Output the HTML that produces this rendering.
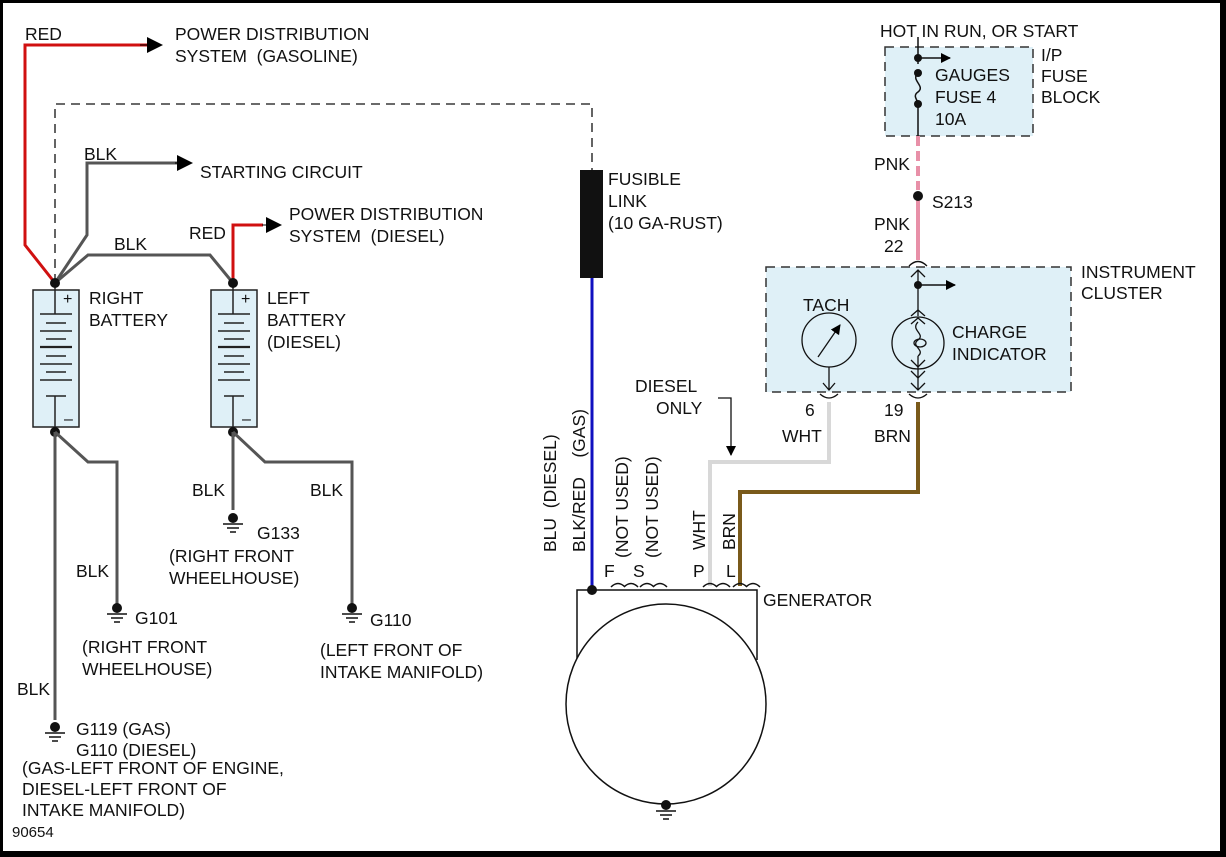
<!DOCTYPE html>
<html><head><meta charset="utf-8"><style>
html,body{margin:0;padding:0;background:#fff}
svg{display:block}
text{font-family:"Liberation Sans",Arial,sans-serif;font-size:17.5px;fill:#111}
</style></head><body>
<svg width="1226" height="857" viewBox="0 0 1226 857" xmlns="http://www.w3.org/2000/svg">
<defs>
<marker id="ah" markerWidth="10" markerHeight="10" refX="9" refY="5" orient="auto" markerUnits="userSpaceOnUse"><path d="M0,0 L10,5 L0,10 z" fill="#000"/></marker>
<marker id="ahb" markerWidth="16" markerHeight="16" refX="15" refY="8" orient="auto" markerUnits="userSpaceOnUse"><path d="M0,0 L16,8 L0,16 z" fill="#000"/></marker>
<g id="gnd" stroke="#111" stroke-width="1.5">
<circle cx="0" cy="0" r="5" fill="#111" stroke="none"/>
<line x1="-10" y1="6" x2="10" y2="6"/><line x1="-6" y1="10" x2="6" y2="10"/><line x1="-3" y1="14" x2="3" y2="14"/>
</g>
<g id="bat">
<rect x="33" y="290" width="46" height="137" fill="#dff0f7" stroke="#222" stroke-width="1.5"/>
<line x1="55" y1="283" x2="55" y2="314" stroke="#222" stroke-width="1.5"/>
<line x1="40" y1="314" x2="72" y2="314" stroke="#222" stroke-width="1.5"/>
<line x1="46" y1="323" x2="66" y2="323" stroke="#222" stroke-width="1.5"/>
<line x1="40" y1="331" x2="72" y2="331" stroke="#222" stroke-width="1.5"/>
<line x1="46" y1="339" x2="66" y2="339" stroke="#222" stroke-width="1.5"/>
<line x1="40" y1="347" x2="72" y2="347" stroke="#222" stroke-width="2.2"/>
<line x1="46" y1="356" x2="66" y2="356" stroke="#222" stroke-width="1.5"/>
<line x1="40" y1="364" x2="72" y2="364" stroke="#222" stroke-width="1.5"/>
<line x1="46" y1="372" x2="66" y2="372" stroke="#222" stroke-width="1.5"/>
<line x1="40" y1="380" x2="72" y2="380" stroke="#222" stroke-width="1.5"/>
<line x1="46" y1="396" x2="66" y2="396" stroke="#222" stroke-width="1.5"/>
<line x1="55" y1="396" x2="55" y2="432" stroke="#222" stroke-width="1.5"/>
<text x="63" y="304" style="font-size:16px">+</text>
<text x="64" y="424" style="font-size:16px">–</text>
</g>
</defs>
<rect x="1.5" y="1.5" width="1220" height="851" fill="none" stroke="#000" stroke-width="3"/>
<rect x="1221" y="0" width="5" height="857" fill="#000"/>
<rect x="0" y="851" width="1226" height="6" fill="#000"/>

<rect x="885" y="47" width="148" height="89" fill="#dff0f7" stroke="#333" stroke-width="1.5" stroke-dasharray="9,6"/>
<rect x="766" y="267" width="305" height="125" fill="#dff0f7" stroke="#333" stroke-width="1.5" stroke-dasharray="9,6"/>

<polyline points="55,283 55,104 592,104 592,170" fill="none" stroke="#111" stroke-width="1.3" stroke-dasharray="9,6"/>
<rect x="580" y="170" width="23" height="108" fill="#111"/>
<line x1="592" y1="278" x2="592" y2="590" stroke="#1010c0" stroke-width="3"/>

<polyline points="55,283 25,245 25,45 148,45" fill="none" stroke="#d01010" stroke-width="3"/>
<line x1="140" y1="45" x2="162" y2="45" stroke="#000" stroke-width="1" marker-end="url(#ahb)"/>
<polyline points="233,283 233,225 263,225" fill="none" stroke="#d01010" stroke-width="3"/>
<line x1="262" y1="225" x2="281" y2="225" stroke="#000" stroke-width="1" marker-end="url(#ahb)"/>

<polyline points="55,283 87,235 87,163 178,163" fill="none" stroke="#555" stroke-width="3"/>
<line x1="175" y1="163" x2="192" y2="163" stroke="#000" stroke-width="1" marker-end="url(#ahb)"/>
<polyline points="55,283 88,255 210,255 233,283" fill="none" stroke="#555" stroke-width="3"/>

<use href="#bat"/>
<use href="#bat" x="178"/>
<circle cx="55" cy="283" r="5" fill="#111"/><circle cx="233" cy="283" r="5" fill="#111"/>
<circle cx="55" cy="432" r="5" fill="#111"/><circle cx="233" cy="432" r="5" fill="#111"/>

<g fill="none" stroke="#555" stroke-width="3">
<line x1="55" y1="432" x2="55" y2="720"/>
<polyline points="55,432 88,462 117,462 117,605"/>
<line x1="233" y1="432" x2="233" y2="510"/>
<polyline points="233,432 265,462 352,462 352,605"/>
</g>
<use href="#gnd" x="55" y="727"/>
<use href="#gnd" x="117" y="608"/>
<use href="#gnd" x="233" y="518"/>
<use href="#gnd" x="352" y="608"/>

<line x1="918" y1="37" x2="918" y2="64" stroke="#111" stroke-width="1.5"/>
<path d="M918,73 C910,80 926,86 918,92 C912,96 918,100 918,104" fill="none" stroke="#111" stroke-width="1.5"/>
<line x1="918" y1="104" x2="918" y2="136" stroke="#111" stroke-width="1.5"/>
<circle cx="918" cy="58" r="4" fill="#111"/><circle cx="918" cy="73" r="4" fill="#111"/><circle cx="918" cy="104" r="4" fill="#111"/>
<line x1="918" y1="58" x2="950" y2="58" stroke="#111" stroke-width="1.5" marker-end="url(#ah)"/>

<line x1="918" y1="136" x2="918" y2="190" stroke="#e890a8" stroke-width="4" stroke-dasharray="10,5"/>
<line x1="918" y1="200" x2="918" y2="260" stroke="#e890a8" stroke-width="4"/>
<circle cx="918" cy="196" r="5" fill="#111"/>

<g fill="none" stroke="#111" stroke-width="1.3">
<path d="M909,266 Q918,257 927,266"/>
<path d="M911,277 L918,270 L925,277 M918,270 L918,316"/>
<path d="M820,402 Q829,394 838,402" transform="rotate(180 829 398)"/>
<path d="M909,402 Q918,394 927,402" transform="rotate(180 918 398)"/>
</g>
<circle cx="918" cy="285" r="4" fill="#111"/>
<line x1="918" y1="285" x2="955" y2="285" stroke="#111" stroke-width="1.5" marker-end="url(#ah)"/>

<circle cx="829" cy="340" r="27" fill="none" stroke="#111" stroke-width="1.3"/>
<line x1="818" y1="357" x2="840" y2="325" stroke="#111" stroke-width="1.3" marker-end="url(#ah)"/>
<line x1="829" y1="367" x2="829" y2="390" stroke="#111" stroke-width="1.3"/>
<path d="M823,383 L829,390 L835,383" fill="none" stroke="#111" stroke-width="1.3"/>

<circle cx="918" cy="343" r="26" fill="none" stroke="#111" stroke-width="1.3"/>
<g fill="none" stroke="#111" stroke-width="1.3">
<path d="M911,316 L918,310 L925,316 M911,324 L918,318 L925,324"/>
<path d="M918,322 C910,330 926,334 918,340 C910,346 926,350 918,356"/>
<ellipse cx="920" cy="343" rx="6" ry="4"/>
<path d="M911,360 L918,367 L925,360 M911,371 L918,378 L925,371 M911,383 L918,390 L925,383"/>
<line x1="918" y1="356" x2="918" y2="390"/>
</g>

<polyline points="829,402 829,462 710,462 710,586" fill="none" stroke="#d8d8d8" stroke-width="4"/>
<polyline points="918,402 918,492 740,492 740,586" fill="none" stroke="#7a5a1a" stroke-width="4"/>
<polyline points="718,398 731,398 731,455" fill="none" stroke="#111" stroke-width="1.3" marker-end="url(#ah)"/>

<g fill="none" stroke="#111" stroke-width="1.5">
<polyline points="577,660 577,590 757,590 757,660"/>
<circle cx="666" cy="704" r="100" fill="#fff"/>
<path d="M611,587 Q618,580 625,587 M624,587 Q631,580 638,587"/>
<path d="M640,587 Q647,580 654,587 M653,587 Q660,580 667,587"/>
<path d="M703,587 Q710,580 717,587 M716,587 Q723,580 730,587"/>
<path d="M733,587 Q740,580 747,587 M746,587 Q753,580 760,587" />
</g>
<circle cx="592" cy="590" r="5" fill="#111"/>
<use href="#gnd" x="666" y="805"/>

<text x="25" y="40">RED</text>
<text x="175" y="40">POWER DISTRIBUTION</text>
<text x="175" y="62">SYSTEM&#160;&#160;(GASOLINE)</text>
<text x="84" y="160">BLK</text>
<text x="200" y="178">STARTING CIRCUIT</text>
<text x="114" y="250">BLK</text>
<text x="189" y="239">RED</text>
<text x="289" y="220">POWER DISTRIBUTION</text>
<text x="289" y="242">SYSTEM&#160;&#160;(DIESEL)</text>
<text x="89" y="304">RIGHT</text>
<text x="89" y="326">BATTERY</text>
<text x="267" y="304">LEFT</text>
<text x="267" y="326">BATTERY</text>
<text x="267" y="348">(DIESEL)</text>
<text x="192" y="496">BLK</text>
<text x="310" y="496">BLK</text>
<text x="257" y="539">G133</text>
<text x="169" y="562">(RIGHT FRONT</text>
<text x="169" y="584">WHEELHOUSE)</text>
<text x="76" y="577">BLK</text>
<text x="135" y="624">G101</text>
<text x="82" y="653">(RIGHT FRONT</text>
<text x="82" y="675">WHEELHOUSE)</text>
<text x="370" y="626">G110</text>
<text x="320" y="656">(LEFT FRONT OF</text>
<text x="320" y="678">INTAKE MANIFOLD)</text>
<text x="17" y="695">BLK</text>
<text x="76" y="735">G119 (GAS)</text>
<text x="76" y="756">G110 (DIESEL)</text>
<text x="22" y="774">(GAS-LEFT FRONT OF ENGINE,</text>
<text x="22" y="795">DIESEL-LEFT FRONT OF</text>
<text x="22" y="816">INTAKE MANIFOLD)</text>
<text x="12" y="837" style="font-size:15px">90654</text>
<text x="608" y="185">FUSIBLE</text>
<text x="608" y="207">LINK</text>
<text x="608" y="229">(10 GA-RUST)</text>
<text transform="translate(556,552) rotate(-90)">BLU&#160;&#160;(DIESEL)</text>
<text transform="translate(585,552) rotate(-90)">BLK/RED&#160;&#160;&#160;&#160;(GAS)</text>
<text transform="translate(628,558) rotate(-90)">(NOT USED)</text>
<text transform="translate(658,558) rotate(-90)">(NOT USED)</text>
<text transform="translate(705,550) rotate(-90)">WHT</text>
<text transform="translate(735,550) rotate(-90)">BRN</text>
<text x="604" y="577">F</text>
<text x="633" y="577">S</text>
<text x="693" y="577">P</text>
<text x="726" y="577">L</text>
<text x="763" y="606">GENERATOR</text>
<text x="635" y="392">DIESEL</text>
<text x="656" y="414">ONLY</text>
<text x="880" y="37">HOT IN RUN, OR START</text>
<text x="935" y="81">GAUGES</text>
<text x="935" y="103">FUSE 4</text>
<text x="935" y="125">10A</text>
<text x="1041" y="61">I/P</text>
<text x="1041" y="82">FUSE</text>
<text x="1041" y="103">BLOCK</text>
<text x="874" y="170">PNK</text>
<text x="932" y="208">S213</text>
<text x="874" y="230">PNK</text>
<text x="884" y="252">22</text>
<text x="1081" y="278">INSTRUMENT</text>
<text x="1081" y="299">CLUSTER</text>
<text x="803" y="311">TACH</text>
<text x="952" y="338">CHARGE</text>
<text x="952" y="360">INDICATOR</text>
<text x="805" y="416">6</text>
<text x="884" y="416">19</text>
<text x="782" y="442">WHT</text>
<text x="874" y="442">BRN</text>
</svg>
</body></html>
